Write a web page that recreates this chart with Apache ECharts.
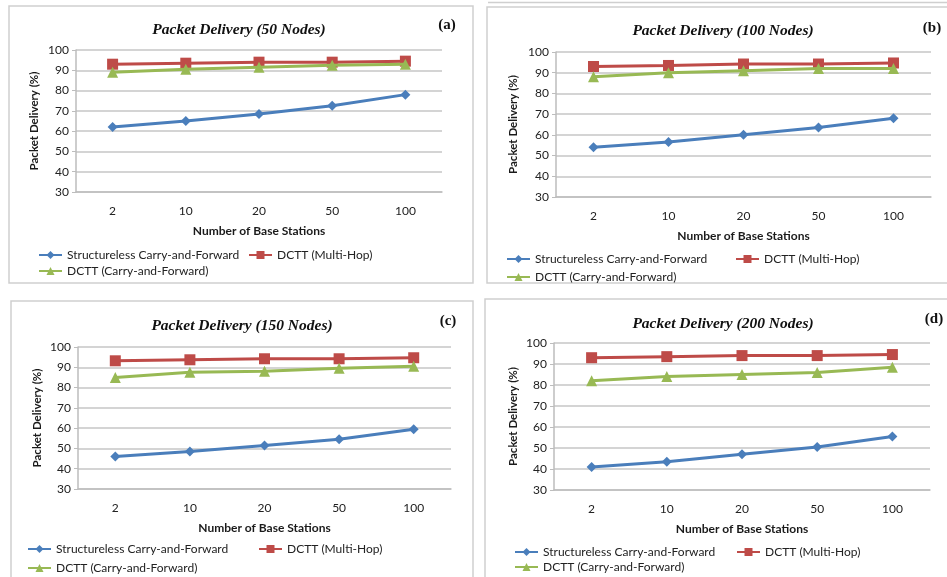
<!DOCTYPE html>
<html>
<head>
<meta charset="utf-8">
<script src="https://cdn.jsdelivr.net/npm/echarts@6/dist/echarts.min.js"></script>
<style>
html,body{margin:0;padding:0;background:#fff;}
#chart{width:947px;height:577px;}
</style>
</head>
<body>
<div id="chart"></div>
<script>
// ---- data ----
const categories = ['2', '10', '20', '50', '100'];
const seriesNames = ['Structureless Carry-and-Forward', 'DCTT (Multi-Hop)', 'DCTT (Carry-and-Forward)'];
const panelTitles = ['Packet Delivery (50 Nodes)', 'Packet Delivery (100 Nodes)', 'Packet Delivery (150 Nodes)', 'Packet Delivery (200 Nodes)'];
const panelTags = ['(a)', '(b)', '(c)', '(d)'];
const yMin = 30, yMax = 100, yStep = 10;
const xAxisName = 'Number of Base Stations';
const yAxisName = 'Packet Delivery (%)';

// panel (a) 50 nodes
const a_structureless = [62, 65, 68.5, 72.5, 78];
const a_multiHop      = [93, 93.5, 94, 94, 94.5];
const a_carryForward  = [89, 90.5, 91.5, 92.5, 93];
// panel (b) 100 nodes
const b_structureless = [54, 56.5, 60, 63.5, 68];
const b_multiHop      = [93, 93.5, 94.2, 94.2, 94.7];
const b_carryForward  = [88, 90, 91, 92, 92];
// panel (c) 150 nodes
const c_structureless = [46, 48.5, 51.5, 54.5, 59.5];
const c_multiHop      = [93.2, 93.7, 94.2, 94.2, 94.7];
const c_carryForward  = [85, 87.5, 88, 89.5, 90.5];
// panel (d) 200 nodes
const d_structureless = [41, 43.5, 47, 50.5, 55.5];
const d_multiHop      = [93, 93.5, 94, 94, 94.5];
const d_carryForward  = [82, 84, 85, 86, 88.5];

const panelData = [
  [a_structureless, a_multiHop, a_carryForward],
  [b_structureless, b_multiHop, b_carryForward],
  [c_structureless, c_multiHop, c_carryForward],
  [d_structureless, d_multiHop, d_carryForward]
];

// ---- layout / style ----
const FONT = 'Lato, "Open Sans", sans-serif';
const SERIF = '"Liberation Serif", "DejaVu Serif", serif';
const colors = ['#4a7ebb', '#be4b48', '#98b954'];
const symbols = ['diamond', 'rect', 'triangle'];
const symbolSizes = [10, 11, 11];

const grids = [
  {left: 76, top: 50, width: 366, height: 142},
  {left: 556, top: 52, width: 375, height: 145},
  {left: 78, top: 347, width: 373, height: 142},
  {left: 554, top: 343, width: 376, height: 147}
];
const yNameGap = [36, 37, 35, 35];
const titleCenter = [[239, 30], [723, 31], [242, 326], [723, 324]];
const tagCenter = [[447, 25], [932, 28], [448, 321], [934, 319]];
// legend item start x per panel: [item1, item2, item3]
const legendX = [[38, 248, 38], [506, 735, 506], [27, 258, 27], [514, 736, 514]];
const row1Centers = [255, 259, 549, 552];
const row2Centers = [271, 277, 568, 567];

const option = {
  backgroundColor: '#fff',
  animation: false,
  title: [],
  legend: [],
  grid: [],
  xAxis: [],
  yAxis: [],
  series: [],
  graphic: [
    {type: 'rect', shape: {x: 9, y: 6, width: 464, height: 277}, style: {fill: 'none', stroke: '#cfcfcf', lineWidth: 1.5}, z: -1},
    {type: 'line', shape: {x1: 488, y1: 2.5, x2: 947, y2: 2.5}, style: {stroke: '#cfcfcf', lineWidth: 1.5}, z: -1},
    {type: 'rect', shape: {x: 487, y: 7, width: 475, height: 276}, style: {fill: 'none', stroke: '#cfcfcf', lineWidth: 1.5}, z: -1},
    {type: 'rect', shape: {x: 11, y: 301, width: 462, height: 300}, style: {fill: 'none', stroke: '#cfcfcf', lineWidth: 1.5}, z: -1},
    {type: 'rect', shape: {x: 485, y: 299, width: 475, height: 300}, style: {fill: 'none', stroke: '#cfcfcf', lineWidth: 1.5}, z: -1}
  ]
};

for (let p = 0; p < 4; p++) {
  option.grid.push(Object.assign({containLabel: false}, grids[p]));
  option.graphic.push({
    type: 'text', x: titleCenter[p][0], y: titleCenter[p][1],
    style: {text: panelTitles[p], align: 'center', verticalAlign: 'middle',
      font: 'italic bold 15.5px ' + SERIF, fill: '#111'}
  });
  option.graphic.push({
    type: 'text', x: tagCenter[p][0], y: tagCenter[p][1],
    style: {text: panelTags[p], align: 'center', verticalAlign: 'middle',
      font: 'bold 15px ' + SERIF, fill: '#111'}
  });
  option.xAxis.push({
    type: 'category', gridIndex: p, data: categories, boundaryGap: true,
    name: xAxisName, nameLocation: 'middle', nameGap: 33,
    nameTextStyle: {fontFamily: FONT, fontWeight: 'bold', fontSize: 12, color: '#1a1a1a'},
    axisLine: {show: true, lineStyle: {color: '#bdbdbd', width: 1.5}},
    axisTick: {show: false},
    axisLabel: {fontFamily: FONT, fontSize: 12, color: '#222', margin: 13}
  });
  option.yAxis.push({
    type: 'value', gridIndex: p, min: yMin, max: yMax, interval: yStep,
    name: yAxisName, nameLocation: 'middle', nameGap: yNameGap[p], nameRotate: 90,
    nameTextStyle: {fontFamily: FONT, fontWeight: 'bold', fontSize: 11.5, color: '#1a1a1a'},
    axisLine: {show: true, lineStyle: {color: '#bdbdbd', width: 1.5}},
    axisTick: {show: true, length: 4, lineStyle: {color: '#bdbdbd'}},
    axisLabel: {fontFamily: FONT, fontSize: 12, color: '#222', margin: 7},
    splitLine: {show: true, lineStyle: {color: '#c6c6c6', width: 1.5}}
  });
  for (let s = 0; s < 3; s++) {
    option.series.push({
      type: 'line', name: seriesNames[s], xAxisIndex: p, yAxisIndex: p,
      data: panelData[p][s], symbol: symbols[s], symbolSize: symbolSizes[s],
      lineStyle: {color: colors[s], width: 3}, itemStyle: {color: colors[s]},
      z: 3 + s
    });
  }
  const lt = {fontFamily: FONT, fontSize: 12, color: '#222'};
  const centers = [row1Centers[p], row1Centers[p], row2Centers[p]];
  for (let s = 0; s < 3; s++) {
    option.legend.push({
      data: [seriesNames[s]], left: legendX[p][s], top: centers[s] - 6,
      itemWidth: 23, itemHeight: 10, padding: 0, textStyle: lt, selectedMode: false
    });
  }
}

const chart = echarts.init(document.getElementById('chart'), null, {renderer: 'canvas'});
chart.setOption(option);
</script>
</body>
</html>
